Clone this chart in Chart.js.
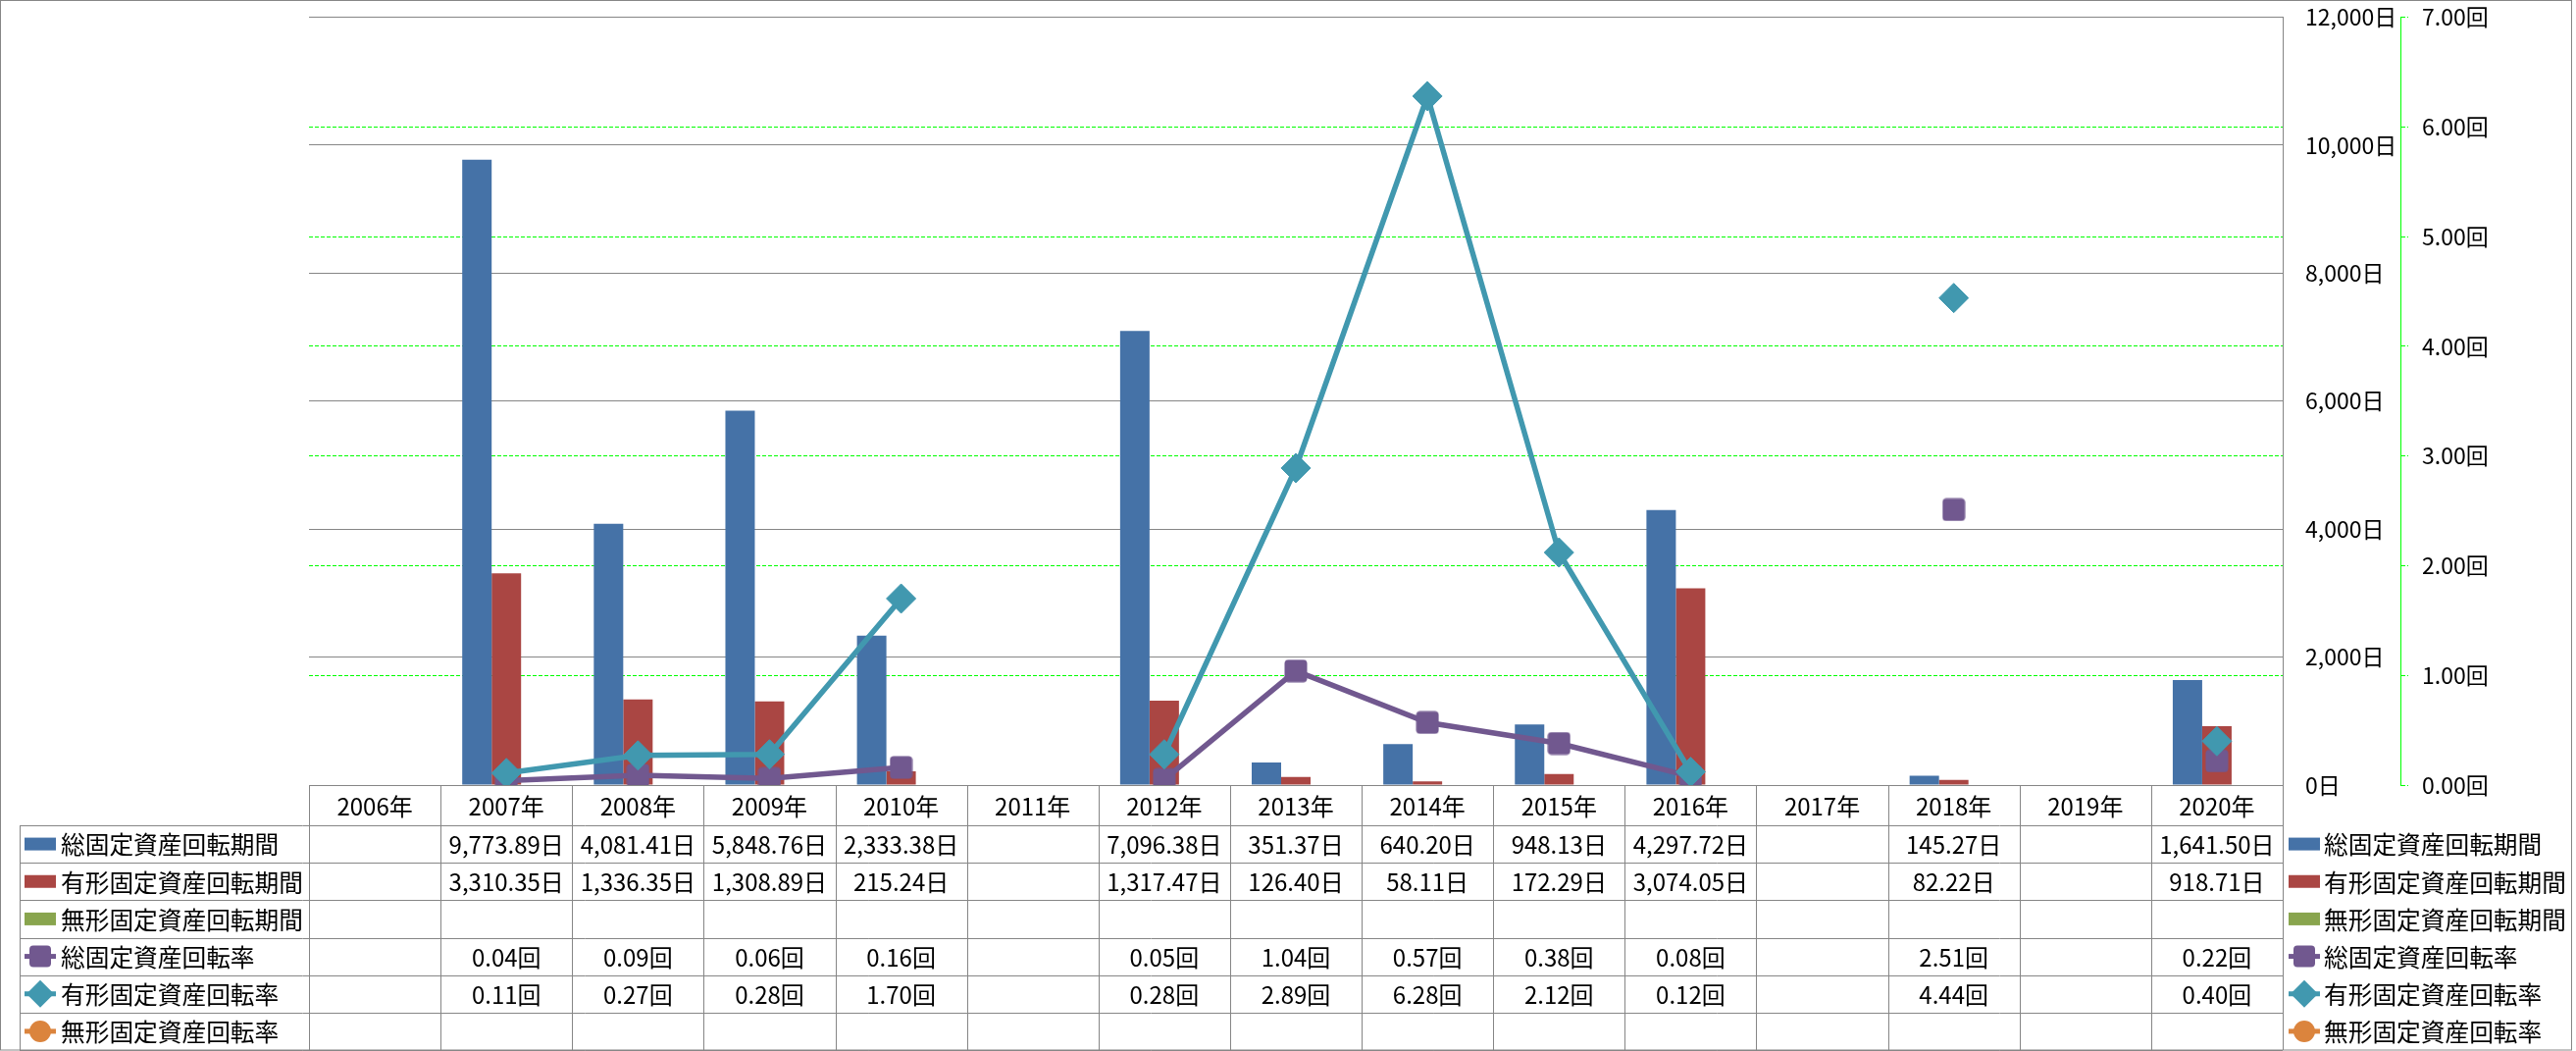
<!DOCTYPE html>
<html>
<head>
<meta charset="utf-8">
<script src="https://cdn.jsdelivr.net/npm/chart.js@4.4.1/dist/chart.umd.min.js"></script>
<style>
  body { margin: 0; background: #fff; }
  canvas { display: block; }
</style>
</head>
<body>
<canvas id="chart" width="2626" height="1071"></canvas>
<script>
const years = ["2006年", "2007年", "2008年", "2009年", "2010年", "2011年", "2012年", "2013年",
  "2014年", "2015年", "2016年", "2017年", "2018年", "2019年", "2020年"];

const seriesNames = ["総固定資産回転期間", "有形固定資産回転期間", "無形固定資産回転期間",
  "総固定資産回転率", "有形固定資産回転率", "無形固定資産回転率"];

// 日
const totalPeriod = [null, 9773.89, 4081.41, 5848.76, 2333.38, null, 7096.38, 351.37,
  640.20, 948.13, 4297.72, null, 145.27, null, 1641.50];
const tangiblePeriod = [null, 3310.35, 1336.35, 1308.89, 215.24, null, 1317.47, 126.40,
  58.11, 172.29, 3074.05, null, 82.22, null, 918.71];
const intangiblePeriod = [null, null, null, null, null, null, null, null,
  null, null, null, null, null, null, null];

// 回
const totalRate = [null, 0.04, 0.09, 0.06, 0.16, null, 0.05, 1.04,
  0.57, 0.38, 0.08, null, 2.51, null, 0.22];
const tangibleRate = [null, 0.11, 0.27, 0.28, 1.70, null, 0.28, 2.89,
  6.28, 2.12, 0.12, null, 4.44, null, 0.40];
const intangibleRate = [null, null, null, null, null, null, null, null,
  null, null, null, null, null, null, null];

const dayMin = 0, dayMax = 12000, dayStep = 2000;
const rateMin = 0, rateMax = 7, rateStep = 1;

const FONT = '"Noto Sans CJK JP", "Noto Sans", sans-serif';
const GRAY = "#868686";
const LIME = "#00FF00";
const BLUE = "#4572A7";
const RED = "#AA4643";
const GREEN = "#89A54E";
const PURPLE = "#71588F";
const TEAL = "#4198AF";
const ORANGE = "#DB843D";

const fmtDay = (v) =>
  v.toLocaleString("en-US", { minimumFractionDigits: 2, maximumFractionDigits: 2 }) + "日";
const fmtRate = (v) => v.toFixed(2) + "回";

// square marker with small rounded corners
const squareMarker = (() => {
  const c = document.createElement("canvas");
  c.width = 24;
  c.height = 24;
  const g = c.getContext("2d");
  g.fillStyle = PURPLE;
  g.beginPath();
  g.roundRect(0.5, 0.5, 23, 23, 4);
  g.fill();
  return c;
})();

const tableRows = [
  { name: seriesNames[0], data: totalPeriod, color: BLUE, kind: "bar", fmt: fmtDay },
  { name: seriesNames[1], data: tangiblePeriod, color: RED, kind: "bar", fmt: fmtDay },
  { name: seriesNames[2], data: intangiblePeriod, color: GREEN, kind: "bar", fmt: fmtDay },
  { name: seriesNames[3], data: totalRate, color: PURPLE, kind: "square", fmt: fmtRate },
  { name: seriesNames[4], data: tangibleRate, color: TEAL, kind: "diamond", fmt: fmtRate },
  { name: seriesNames[5], data: intangibleRate, color: ORANGE, kind: "circle", fmt: fmtRate },
];

const drawKey = (ctx, row, x, y) => {
  ctx.save();
  ctx.fillStyle = row.color;
  ctx.strokeStyle = row.color;
  if (row.kind === "bar") {
    ctx.fillRect(x, y - 6.5, 32, 13);
  } else {
    ctx.lineWidth = 5;
    ctx.beginPath();
    ctx.moveTo(x, y);
    ctx.lineTo(x + 32, y);
    ctx.stroke();
    const cx = x + 16;
    ctx.beginPath();
    if (row.kind === "square") {
      ctx.roundRect(cx - 11, y - 11, 22, 22, 4);
    } else if (row.kind === "diamond") {
      ctx.moveTo(cx, y - 14);
      ctx.lineTo(cx + 14, y);
      ctx.lineTo(cx, y + 14);
      ctx.lineTo(cx - 14, y);
      ctx.closePath();
    } else {
      ctx.arc(cx, y, 11, 0, Math.PI * 2);
    }
    ctx.fill();
  }
  ctx.restore();
};

const px = (v) => Math.round(v) + 0.5;

const dataTable = {
  id: "dataTable",
  afterDraw(chart) {
    const ctx = chart.ctx;
    const area = chart.chartArea;
    const xs = chart.scales.x;
    const n = years.length;
    const colW = (area.right - area.left) / n;
    const headTop = area.bottom;
    const bodyTop = 841;
    const bottom = 1070;
    const rowH = (bottom - bodyTop) / tableRows.length;
    const keyLeft = 20;

    ctx.save();
    ctx.strokeStyle = GRAY;
    ctx.lineWidth = 1;
    ctx.beginPath();
    ctx.moveTo(area.left, px(headTop));
    ctx.lineTo(area.right, px(headTop));
    for (let i = 0; i <= n; i++) {
      const x = px(area.left + i * colW);
      ctx.moveTo(x, headTop);
      ctx.lineTo(x, bottom);
    }
    for (let r = 0; r <= tableRows.length; r++) {
      const y = px(bodyTop + r * rowH);
      ctx.moveTo(keyLeft, y);
      ctx.lineTo(area.right, y);
    }
    ctx.moveTo(px(keyLeft), bodyTop);
    ctx.lineTo(px(keyLeft), bottom);
    ctx.stroke();

    // outer frame
    ctx.strokeRect(0.5, 0.5, 2621, 1069.5);

    ctx.fillStyle = "#000";
    ctx.font = "24px " + FONT;
    ctx.textBaseline = "middle";
    ctx.textAlign = "center";
    years.forEach((label, i) => {
      ctx.fillText(label, xs.getPixelForValue(i), (headTop + bodyTop) / 2 + 1);
    });

    tableRows.forEach((row, r) => {
      const cy = bodyTop + r * rowH + rowH / 2 + 1;
      ctx.font = "24px " + FONT;
      ctx.textAlign = "center";
      ctx.fillStyle = "#000";
      row.data.forEach((v, i) => {
        if (v === null) return;
        ctx.fillText(row.fmt(v), xs.getPixelForValue(i), cy);
      });
      ctx.textAlign = "left";
      ctx.font = "24.7px " + FONT;
      drawKey(ctx, row, keyLeft + 5, cy - 1);
      ctx.fillStyle = "#000";
      ctx.fillText(row.name, keyLeft + 42, cy);
      drawKey(ctx, row, 2333, cy - 1);
      ctx.fillStyle = "#000";
      ctx.fillText(row.name, 2369, cy);
    });
    ctx.restore();
  },
};

const noEdgePadding = (width) => (s) => {
  s.width = width;
  s.paddingTop = 0;
  s.paddingBottom = 0;
};

const chart = new Chart(document.getElementById("chart"), {
  type: "bar",
  data: {
    labels: years,
    datasets: [
      { type: "bar", label: seriesNames[0], data: totalPeriod, backgroundColor: BLUE, yAxisID: "y", order: 3 },
      { type: "bar", label: seriesNames[1], data: tangiblePeriod, backgroundColor: RED, yAxisID: "y", order: 3 },
      { type: "bar", label: seriesNames[2], data: intangiblePeriod, backgroundColor: GREEN, yAxisID: "y", order: 3 },
      {
        type: "line", label: seriesNames[3], data: totalRate, yAxisID: "y1", order: 2,
        borderColor: PURPLE, backgroundColor: PURPLE, borderWidth: 5.5,
        pointStyle: squareMarker, pointRadius: 12, spanGaps: false,
      },
      {
        type: "line", label: seriesNames[4], data: tangibleRate, yAxisID: "y1", order: 1,
        borderColor: TEAL, backgroundColor: TEAL, borderWidth: 5.5,
        pointStyle: "rectRot", pointRadius: 15, pointBorderWidth: 1,
        pointBackgroundColor: TEAL, pointBorderColor: TEAL, spanGaps: false,
      },
      {
        type: "line", label: seriesNames[5], data: intangibleRate, yAxisID: "y1", order: 0,
        borderColor: ORANGE, backgroundColor: ORANGE, borderWidth: 5.5,
        pointStyle: "circle", pointRadius: 11, spanGaps: false,
      },
    ],
  },
  options: {
    responsive: false,
    animation: false,
    layout: { padding: { left: 315, top: 16, bottom: 271, right: 0 } },
    datasets: {
      bar: { barPercentage: 1, categoryPercentage: 0.671 },
    },
    plugins: {
      legend: { display: false },
      tooltip: { enabled: false },
    },
    scales: {
      x: { display: false, offset: true },
      y: {
        position: "right",
        min: dayMin,
        max: dayMax,
        grid: { color: GRAY, lineWidth: 1, drawTicks: false },
        border: { color: GRAY, width: 1 },
        ticks: {
          stepSize: dayStep,
          padding: 23,
          color: "#000",
          font: { family: FONT, size: 23 },
          callback: (v) => v.toLocaleString("en-US") + "日",
        },
        afterFit: noEdgePadding(120),
      },
      y1: {
        position: "right",
        min: rateMin,
        max: rateMax,
        grid: {
          color: (c) => (c.tick && (c.tick.value === rateMin || c.tick.value === rateMax) ? "rgba(0,0,0,0)" : LIME),
          tickColor: LIME,
          lineWidth: 1,
          tickLength: 8,
          borderDash: [4, 2],
          tickBorderDash: [4, 2],
        },
        border: { color: LIME, width: 1, dash: [4, 2] },
        ticks: {
          stepSize: rateStep,
          padding: 14,
          color: "#000",
          font: { family: FONT, size: 23 },
          callback: (v) => v.toFixed(2) + "回",
        },
        afterFit: noEdgePadding(179),
      },
    },
  },
  plugins: [dataTable],
});
</script>
</body>
</html>
